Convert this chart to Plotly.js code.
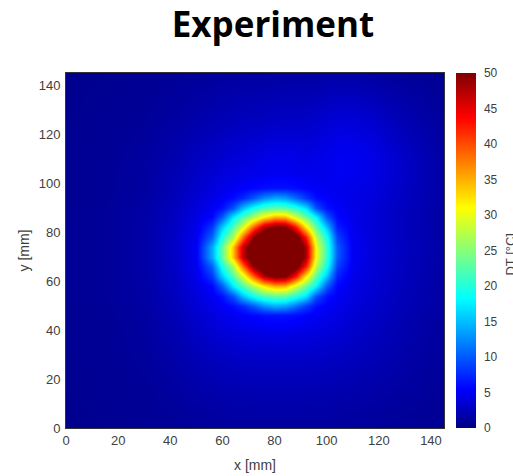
<!DOCTYPE html>
<html>
<head>
<meta charset="utf-8">
<script src="https://cdn.plot.ly/plotly-3.0.1.min.js"></script>
<style>html,body{margin:0;padding:0;background:#fff;}#chart{width:513px;height:476px;}</style>
</head>
<body>
<div id="chart"></div>
<script>
// grid coordinates (mm)
const xGrid = [0,15,30,42,50,56,60,64,68,72,76,80,84,88,92,96,100,104,110,118,128,145];
const yGrid = [0,15,28,38,46,50,54,58,62,66,70,74,78,82,86,90,94,98,104,112,125,145];
// temperature difference DT [°C], one row per yGrid value
const row_y0   = [0.5,0.6,0.7,0.9,1.0,1.1,1.1,1.2,1.2,1.2,1.2,1.2,1.2,1.2,1.2,1.2,1.2,1.1,1.1,1.0,0.9,0.7];
const row_y15  = [0.6,0.7,0.9,1.3,1.6,1.8,1.9,2.0,2.0,2.1,2.1,2.1,2.1,2.1,2.1,2.0,2.0,1.9,1.8,1.6,1.3,0.9];
const row_y28  = [0.6,0.8,1.1,1.7,2.2,2.5,2.7,2.8,2.9,3.0,3.0,3.0,3.0,3.0,3.0,2.9,2.8,2.7,2.5,2.2,1.7,1.0];
const row_y38  = [0.7,0.8,1.2,2.0,2.8,3.3,3.6,3.8,4.0,4.1,4.2,4.2,4.2,4.1,4.0,3.9,3.7,3.5,3.1,2.6,2.0,1.1];
const row_y46  = [0.7,0.9,1.3,2.3,3.3,4.0,4.5,4.9,5.3,5.7,6.1,6.3,6.3,6.0,5.5,5.1,4.6,4.2,3.6,3.0,2.2,1.2];
const row_y50  = [0.7,0.9,1.4,2.5,3.6,4.4,5.1,6.0,7.5,10.0,12.5,14.0,13.4,11.0,8.3,6.0,5.2,4.6,3.9,3.2,2.4,1.3];
const row_y54  = [0.7,1.0,1.5,2.7,3.9,5.0,6.3,9.6,15.2,19.2,21.8,23.0,22.6,20.2,16.7,9.5,6.2,5.1,4.1,3.4,2.5,1.3];
const row_y58  = [0.8,1.0,1.5,2.8,4.2,5.8,10.0,17.4,22.2,27.3,31.9,35.1,34.6,29.2,23.5,17.8,9.6,5.7,4.3,3.5,2.6,1.4];
const row_y62  = [0.8,1.0,1.6,2.9,4.5,8.3,15.8,22.2,29.5,39.6,47.6,51.0,50.5,43.6,31.9,22.8,14.9,6.9,4.6,3.6,2.7,1.4];
const row_y66  = [0.8,1.0,1.6,3.0,4.8,10.6,19.4,26.8,38.7,50.5,55.8,58.2,57.7,53.3,42.4,27.5,18.8,8.7,4.8,3.7,2.7,1.4];
const row_y70  = [0.8,1.0,1.6,3.0,5.0,14.0,23.0,34.0,47.0,54.4,60.0,62.5,61.5,56.8,47.6,30.4,20.4,10.0,4.9,3.8,2.8,1.5];
const row_y74  = [0.8,1.0,1.6,3.0,5.0,14.0,23.0,34.0,47.0,54.4,60.0,62.5,61.5,56.8,47.6,30.4,20.4,10.0,4.9,3.8,2.8,1.5];
const row_y78  = [0.8,1.0,1.6,3.0,4.8,10.6,19.4,26.8,38.7,50.5,55.8,58.2,57.7,53.3,42.4,27.5,18.8,8.7,4.8,3.7,2.7,1.4];
const row_y82  = [0.8,1.0,1.6,2.9,4.5,8.3,15.8,22.2,29.5,39.6,47.6,51.0,50.5,43.6,31.9,22.8,14.9,6.9,4.7,3.7,2.7,1.4];
const row_y86  = [0.8,1.0,1.5,2.8,4.2,5.8,10.0,17.4,22.2,27.3,31.9,35.1,34.6,29.2,23.5,17.8,9.6,5.8,4.5,3.7,2.7,1.4];
const row_y90  = [0.7,1.0,1.5,2.7,3.9,5.0,6.3,9.6,15.2,19.2,21.8,23.0,22.6,20.2,16.7,9.5,6.2,5.3,4.4,3.8,2.8,1.4];
const row_y94  = [0.7,0.9,1.4,2.5,3.6,4.4,5.1,6.0,7.5,10.0,12.5,14.0,13.4,11.0,8.3,6.0,5.3,4.9,4.4,3.9,2.9,1.4];
const row_y98  = [0.7,0.9,1.3,2.3,3.3,4.0,4.5,4.9,5.3,5.7,6.1,6.3,6.3,6.0,5.5,5.1,4.8,4.7,4.5,4.1,3.0,1.4];
const row_y104 = [0.7,0.9,1.3,2.2,3.0,3.5,3.9,4.2,4.4,4.6,4.8,4.9,4.9,4.8,4.6,4.6,4.7,5.0,4.8,4.3,3.2,1.4];
const row_y112 = [0.7,0.8,1.2,1.9,2.6,3.0,3.3,3.6,3.8,4.0,4.3,4.5,4.5,4.3,4.2,4.3,4.6,4.9,4.9,4.4,3.1,1.3];
const row_y125 = [0.6,0.7,1.0,1.4,1.8,2.1,2.3,2.5,2.6,2.7,2.8,2.9,3.0,3.0,3.1,3.3,3.6,3.9,3.8,3.3,2.3,1.1];
const row_y145 = [0.5,0.6,0.7,0.9,1.0,1.1,1.2,1.2,1.3,1.3,1.3,1.4,1.4,1.4,1.4,1.4,1.5,1.5,1.5,1.3,1.0,0.7];

const xTicks = [0,20,40,60,80,100,120,140];
const yTicks = [0,20,40,60,80,100,120,140];
const cbTicks = [0,5,10,15,20,25,30,35,40,45,50];

const zRows = [row_y0,row_y15,row_y28,row_y38,row_y46,row_y50,row_y54,row_y58,row_y62,row_y66,row_y70,row_y74,
               row_y78,row_y82,row_y86,row_y90,row_y94,row_y98,row_y104,row_y112,row_y125,row_y145];

const jet = [[0,'rgb(0,0,131)'],[0.11,'rgb(0,0,255)'],[0.365,'rgb(0,255,255)'],
             [0.62,'rgb(255,255,0)'],[0.875,'rgb(255,0,0)'],[1,'rgb(128,0,0)']];

const FONT = 'Liberation Sans, Arial, sans-serif';
const GREY = '#404040';
const tickFont = {family:FONT, size:13, color:GREY};

const trace = {
  type:'heatmap', x:xGrid, y:yGrid, z:zRows, zmin:0, zmax:50, zsmooth:'best',
  colorscale:jet, hoverinfo:'skip',
  colorbar:{
    x:(456-66)/378, xanchor:'left', xref:'paper', xpad:0,
    y:0.5, yanchor:'middle', len:1, lenmode:'fraction', ypad:0,
    thickness:20, thicknessmode:'pixels', outlinewidth:0,
    tickmode:'array', tickvals:cbTicks, ticks:'outside', ticklen:6, tickcolor:'rgba(0,0,0,0)',
    tickfont:{family:FONT, size:12, color:GREY}
  }
};

const axisCommon = {
  range:[0,145], tickmode:'array', showgrid:false, zeroline:false,
  showline:true, mirror:true, linecolor:'#333', linewidth:1,
  tickfont:tickFont, fixedrange:true
};

const layout = {
  width:513, height:476,
  margin:{l:66, r:69, t:73, b:48, pad:0, autoexpand:false},
  paper_bgcolor:'#ffffff', plot_bgcolor:'rgb(0,0,150)',
  title:{text:'<b>Experiment</b>', x:273/513, xanchor:'center', xref:'container',
         yref:'container', y:1-24.5/476, yanchor:'middle',
         font:{family:'Open Sans, sans-serif', size:35, color:'#000'}},
  xaxis:Object.assign({}, axisCommon, {tickvals:xTicks, ticktext:xTicks.map(String),
        ticks:'', automargin:false,
        title:{text:'x [mm]', standoff:13, font:{family:FONT, size:14, color:GREY}}}),
  yaxis:Object.assign({}, axisCommon, {tickvals:yTicks, ticktext:yTicks.map(String),
        ticks:'outside', ticklen:2, tickcolor:'rgba(0,0,0,0)', automargin:false,
        title:{text:'y [mm]', standoff:5, font:{family:FONT, size:14, color:GREY}}}),
  annotations:[{
    text:'DT [°C]', textangle:-90, xref:'paper', yref:'paper',
    x:(501-66)/378, xanchor:'left', y:0.49, yanchor:'middle', showarrow:false,
    font:{family:FONT, size:13, color:GREY}
  }],
  showlegend:false
};

Plotly.newPlot('chart', [trace], layout, {displayModeBar:false, staticPlot:true});
</script>
</body>
</html>
